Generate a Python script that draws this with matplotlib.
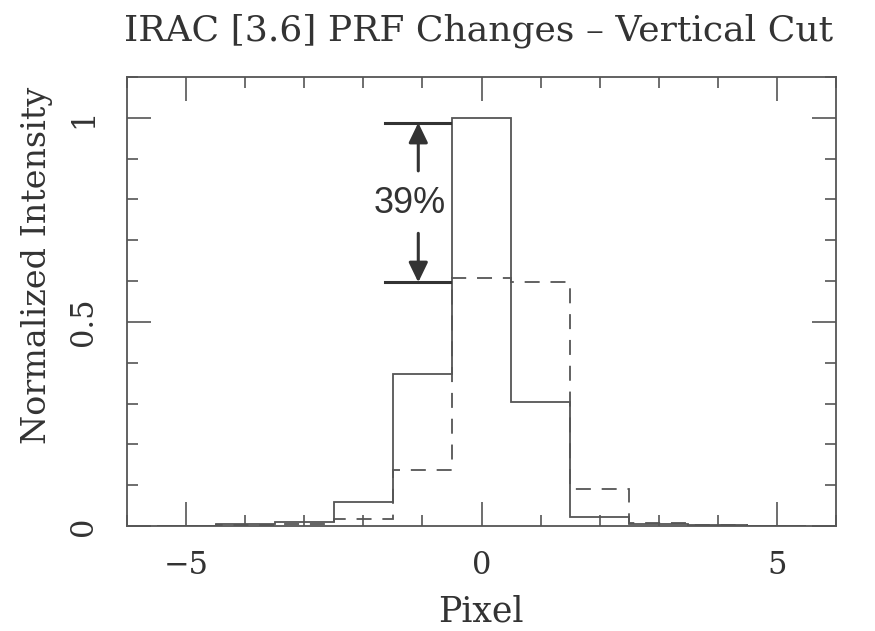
import matplotlib
matplotlib.use("Agg")
import matplotlib.pyplot as plt
import numpy as np
from matplotlib.ticker import MultipleLocator

# Data: bins centred on integer pixel offsets
pixels = [-5, -4, -3, -2, -1, 0, 1, 2, 3, 4, 5]
solid_vals = [0.001, 0.004, 0.009, 0.059, 0.373, 1.0, 0.304, 0.022, 0.006, 0.003, 0.001]
dashed_vals = [0.001, 0.003, 0.006, 0.017, 0.137, 0.608, 0.598, 0.091, 0.007, 0.003, 0.001]
title = "IRAC [3.6] PRF Changes \u2013 Vertical Cut"
xlabel = "Pixel"
ylabel = "Normalized Intensity"
ann_top = 0.988
ann_bot = 0.597
ann_text = "39%"

serif = ["DejaVu Serif"]
tcol = "#333333"
lcol = "#555555"

W, H = 875, 631
fig = plt.figure(figsize=(W / 100, H / 100), dpi=100)
ax = fig.add_axes([127 / W, 1 - 526 / H, (836 - 127) / W, (526 - 77) / H])

edges = np.arange(len(pixels) + 1) - 0.5 + pixels[0]
ax.stairs(solid_vals, edges, baseline=None, color=lcol, linewidth=1.3)
ax.stairs(dashed_vals, edges, baseline=None, color=lcol, linewidth=1.3,
          linestyle=(0, (8.3, 6)))

ax.set_xlim(-6, 6)
ax.set_ylim(0, 1.1)
ax.xaxis.set_major_locator(MultipleLocator(5))
ax.xaxis.set_minor_locator(MultipleLocator(1))
ax.yaxis.set_major_locator(MultipleLocator(0.5))
ax.yaxis.set_minor_locator(MultipleLocator(0.1))
ax.tick_params(which="both", direction="in", top=True, right=True, color=lcol, width=1.2)
ax.tick_params(which="major", length=17)
ax.tick_params(which="minor", length=8)
ax.tick_params(axis="x", pad=17)
ax.tick_params(axis="y", pad=20)
for s in ax.spines.values():
    s.set_color(lcol)
    s.set_linewidth(1.3)

ax.set_xticks([-5, 0, 5])
ax.set_xticklabels(["\u22125", "0", "5"], family=serif, fontsize=22, color=tcol)
ax.set_yticks([0, 0.5, 1])
ax.set_yticklabels(["0", "0.5", "1"], family=serif, fontsize=22, color=tcol,
                   rotation=90, va="center")

fig.text(479 / W, 1 - 40 / H, title, family=serif, fontsize=26, color=tcol,
         ha="center", va="baseline")
fig.text(481 / W, 3 / H, xlabel, family=serif, fontsize=25, color=tcol,
         ha="center", va="bottom")
fig.text(37 / W, 1 - 265 / H, ylabel, family=serif, fontsize=24, color=tcol,
         ha="center", va="center", rotation=90)

# annotation
acol = "#333333"
astyle = "-|>,head_length=0.6,head_width=0.29"
ax.plot([-1.63, -0.53], [ann_top, ann_top], color=acol, linewidth=2.2)
ax.plot([-1.63, -0.53], [ann_bot, ann_bot], color=acol, linewidth=2.2)
ax.annotate("", xy=(-1.07, ann_top), xytext=(-1.07, 0.87),
            arrowprops=dict(arrowstyle=astyle, color=acol,
                            lw=2.2, mutation_scale=20, shrinkA=0, shrinkB=0))
ax.annotate("", xy=(-1.07, ann_bot), xytext=(-1.07, 0.717),
            arrowprops=dict(arrowstyle=astyle, color=acol,
                            lw=2.2, mutation_scale=20, shrinkA=0, shrinkB=0))
ax.text(-1.215, 0.79, ann_text, family=["Liberation Sans"], fontsize=26, color=acol,
        ha="center", va="center")

fig.savefig("out.png", dpi=100)
